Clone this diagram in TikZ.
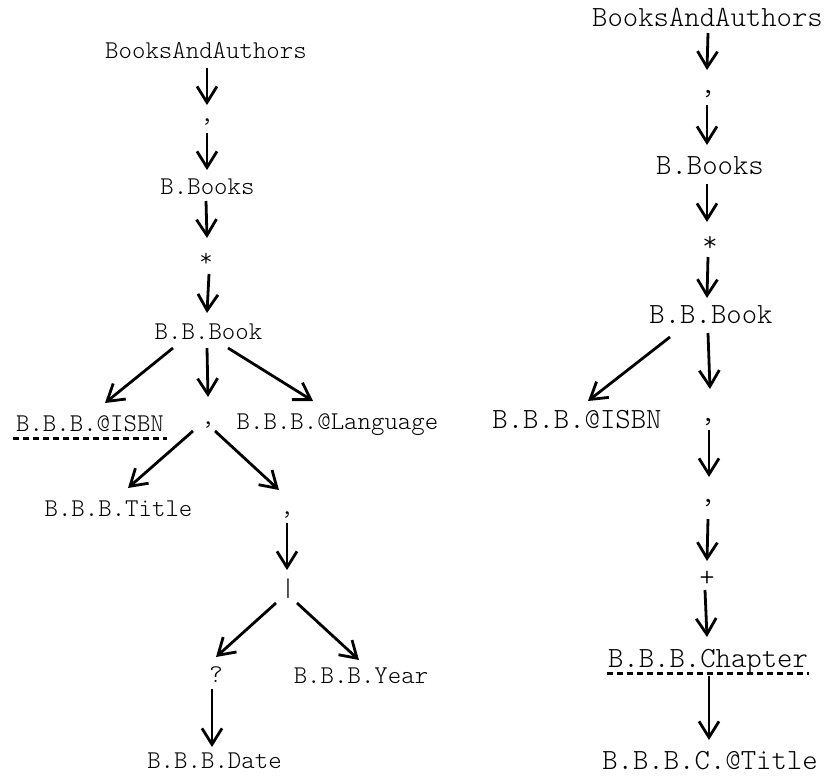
\documentclass[tikz,border=0pt]{standalone}
\usepackage{fontspec}
\newfontfamily\treefont{Latin Modern Mono Light}
\usetikzlibrary{arrows.meta}
\begin{document}
\begin{tikzpicture}[x=1pt,y=-1pt,
  lbl/.style={anchor=base,inner sep=0pt,font=\treefont\fontsize{25.6}{28}\selectfont},
  rlbl/.style={anchor=base,inner sep=0pt,font=\treefont\fontsize{29.3}{32}\selectfont},
  arr/.style={line width=2.8pt,-{Straight Barb[length=16pt,width=20pt]}},
  ul/.style={line width=3pt,dash pattern=on 6pt off 4pt}]
\useasboundingbox (0,0) rectangle (825,777);

% ---- left tree ----
\node[lbl] (ba)    at (206,58)    {BooksAndAuthors};
\node[lbl] (c1)    at (207,121)   {,};
\node[lbl] (bb)    at (207.5,194) {B.Books};
\node[lbl] (st)    at (206,266)   {*};
\node[lbl] (bk)    at (208.5,339) {B.B.Book};
\node[lbl] (isbn)  at (90,431)    {B.B.B.@ISBN};
\node[lbl] (c2)    at (208,424)   {,};
\node[lbl] (lang)  at (337.5,429) {B.B.B.@Language};
\node[lbl] (title) at (118.5,516) {B.B.B.Title};
\node[lbl] (c3)    at (287,514)   {,};
\node[lbl] (bar)   at (288,596)   {|};
\node[lbl] (q)     at (216,682)   {?};
\node[lbl] (year)  at (361,683)   {B.B.B.Year};
\node[lbl] (date)  at (214.5,768) {B.B.B.Date};

\draw[arr] ([shift={(1,10)}]ba.base)     -- ([shift={(0,-16)}]c1.base);
\draw[arr] ([shift={(0,12)}]c1.base)     -- ([shift={(-0.5,-24)}]bb.base);
\draw[arr] ([shift={(-1.5,7)}]bb.base)   -- ([shift={(1,-28)}]st.base);
\draw[arr] ([shift={(3,8)}]st.base)      -- ([shift={(-1.5,-26)}]bk.base);
\draw[arr] ([shift={(-35.5,9)}]bk.base)  -- ([shift={(15,-28)}]isbn.base);
\draw[arr] ([shift={(-1.5,9)}]bk.base)   -- ([shift={(0,-27)}]c2.base);
\draw[arr] ([shift={(19.5,9)}]bk.base)   -- ([shift={(-24.5,-28)}]lang.base);
\draw[arr] ([shift={(-15,7)}]c2.base)    -- ([shift={(9.5,-28)}]title.base);
\draw[arr] ([shift={(7,7)}]c2.base)      -- ([shift={(-8,-24)}]c3.base);
\draw[arr] ([shift={(0,9)}]c3.base)      -- ([shift={(-1,-26)}]bar.base);
\draw[arr] ([shift={(-12,7)}]bar.base)   -- ([shift={(0,-25)}]q.base);
\draw[arr] ([shift={(9,7)}]bar.base)     -- ([shift={(-2,-23)}]year.base);
\draw[arr] ([shift={(-4,7)}]q.base)      -- ([shift={(-2.5,-21)}]date.base);
\draw[ul]  ([shift={(-77,7)}]isbn.base)  -- ([shift={(77,7)}]isbn.base);

% ---- right tree ----
\node[rlbl] (rba)   at (707.5,26) {BooksAndAuthors};
\node[rlbl] (d1)    at (708,93)   {,};
\node[rlbl] (rbb)   at (710,174)  {B.Books};
\node[rlbl] (rst)   at (710,251)  {*};
\node[rlbl] (rbk)   at (711,323)  {B.B.Book};
\node[rlbl] (risbn) at (577,428)  {B.B.B.@ISBN};
\node[rlbl] (d2)    at (708,421)  {,};
\node[rlbl] (d3)    at (708,502)  {,};
\node[rlbl] (pl)    at (707,586)  {+};
\node[rlbl] (ch)    at (708,667)  {B.B.B.Chapter};
\node[rlbl] (cti)   at (710,769)  {B.B.B.C.@Title};

\draw[arr] ([shift={(0.5,7)}]rba.base)   -- ([shift={(-1,-23)}]d1.base);
\draw[arr] ([shift={(-1,12)}]d1.base)    -- ([shift={(-3,-29)}]rbb.base);
\draw[arr] ([shift={(-3,10)}]rbb.base)   -- ([shift={(-3,-29)}]rst.base);
\draw[arr] ([shift={(-2,6)}]rst.base)    -- ([shift={(-4,-25)}]rbk.base);
\draw[arr] ([shift={(-41,14)}]rbk.base)  -- ([shift={(11,-27)}]risbn.base);
\draw[arr] ([shift={(-3,10)}]rbk.base)   -- ([shift={(2,-32)}]d2.base);
\draw[arr] ([shift={(1,9)}]d2.base)      -- ([shift={(1,-25)}]d3.base);
\draw[arr] ([shift={(0,17)}]d3.base)     -- ([shift={(0,-25)}]pl.base);
\draw[arr] ([shift={(-2,4)}]pl.base)     -- ([shift={(-1,-30)}]ch.base);
\draw[arr] ([shift={(1,9)}]ch.base)      -- ([shift={(-1,-29)}]cti.base);
\draw[ul]  ([shift={(-101,6)}]ch.base)   -- ([shift={(101,6)}]ch.base);
\end{tikzpicture}
\end{document}
